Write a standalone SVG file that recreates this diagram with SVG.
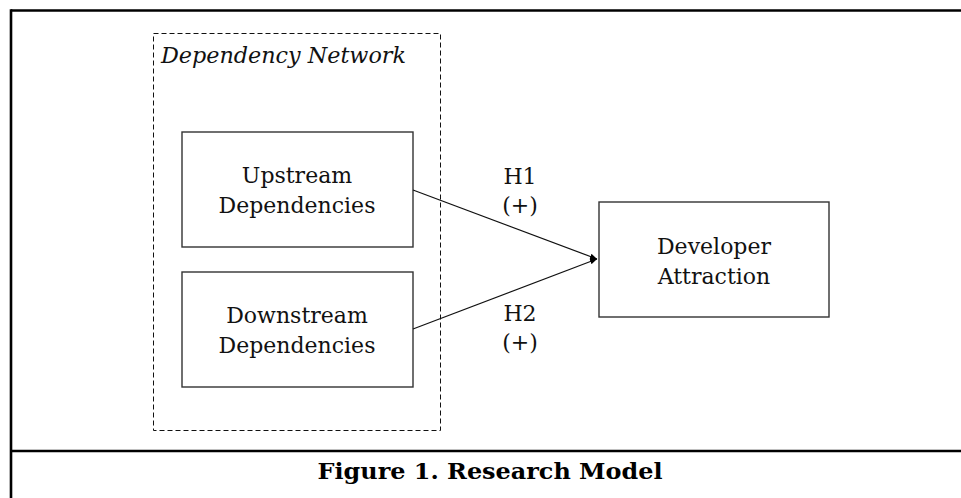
<svg xmlns="http://www.w3.org/2000/svg" width="961" height="498" viewBox="0 0 961 498">
<defs>
<style>
.t{font-family:"DejaVu Serif","Liberation Serif",serif;font-size:22px;fill:#111;text-anchor:middle}
.box{fill:#fff;stroke:#333;stroke-width:1.4}
.edge{stroke:#111;stroke-width:1.2;fill:none}
</style>
<marker id="ah" markerWidth="8" markerHeight="8" refX="7" refY="4" orient="auto" markerUnits="userSpaceOnUse">
<path d="M0,1 L7,4 L0,7 Z" fill="#000"/>
</marker>
</defs>
<rect width="961" height="498" fill="#fff"/>
<g id="frame" stroke="#000" stroke-width="2.6" fill="none">
<line x1="11" y1="10.5" x2="961" y2="10.5"/>
<line x1="11" y1="9.2" x2="11" y2="498"/>
<line x1="11" y1="451" x2="961" y2="451"/>
</g>
<g id="network">
<rect x="153.5" y="33.5" width="287" height="397" fill="none" stroke="#111" stroke-width="1" stroke-dasharray="5,3"/>
<text x="161" y="63" style="font-family:'DejaVu Serif','Liberation Serif',serif;font-size:22px;font-style:italic;fill:#111" textLength="245" lengthAdjust="spacingAndGlyphs">Dependency Network</text>
</g>
<g id="upstream">
<rect class="box" x="182" y="132" width="231" height="115"/>
<text class="t" x="297" y="183">Upstream</text>
<text class="t" x="297" y="213">Dependencies</text>
</g>
<g id="downstream">
<rect class="box" x="182" y="272" width="231" height="115"/>
<text class="t" x="297" y="323">Downstream</text>
<text class="t" x="297" y="353">Dependencies</text>
</g>
<g id="developer">
<rect class="box" x="599" y="202" width="230" height="115"/>
<text class="t" x="714" y="254">Developer</text>
<text class="t" x="714" y="284">Attraction</text>
</g>
<g id="connectors">
<line class="edge" x1="413" y1="190" x2="597" y2="259" marker-end="url(#ah)"/>
<line class="edge" x1="413" y1="329" x2="597" y2="259" marker-end="url(#ah)"/>
<text class="t" x="520" y="184">H1</text>
<text class="t" x="520" y="213">(+)</text>
<text class="t" x="520" y="321">H2</text>
<text class="t" x="520" y="350">(+)</text>
</g>
<g id="caption">
<text x="490" y="479" style="font-family:'DejaVu Serif','Liberation Serif',serif;font-size:23px;font-weight:bold;fill:#000;text-anchor:middle" textLength="345" lengthAdjust="spacingAndGlyphs">Figure 1. Research Model</text>
</g>
</svg>
